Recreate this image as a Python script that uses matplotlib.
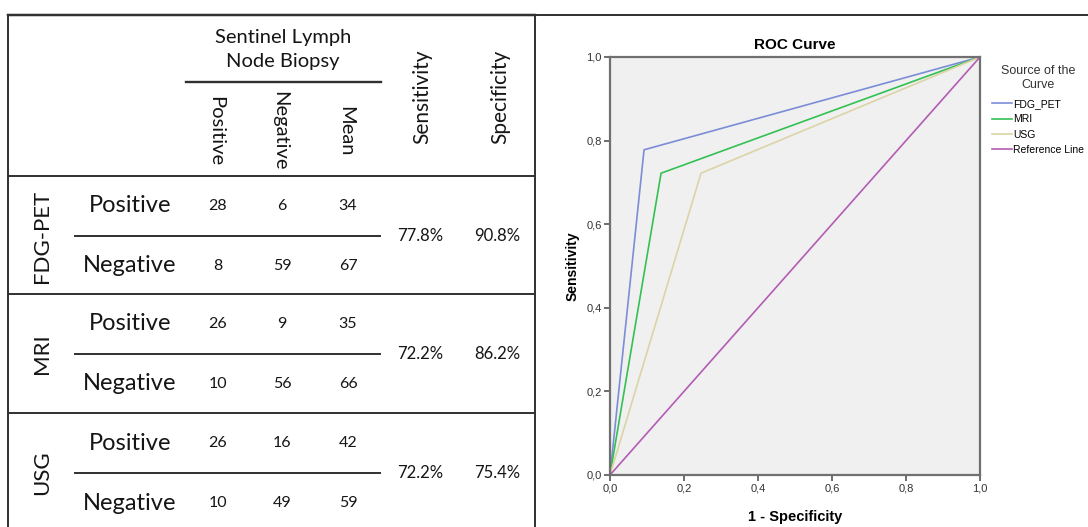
import matplotlib.pyplot as plt
from matplotlib.ticker import FuncFormatter

# table data
modalities = ['FDG-PET', 'MRI', 'USG']
row_labels = ['Positive', 'Negative']
col_labels = ['Positive', 'Negative', 'Mean']
counts = [
    [[28, 6, 34], [8, 59, 67]],
    [[26, 9, 35], [10, 56, 66]],
    [[26, 16, 42], [10, 49, 59]],
]
sensitivity = [77.8, 72.2, 72.2]
specificity = [90.8, 86.2, 75.4]

# ROC curve data (from table)
roc_names = ['FDG_PET', 'MRI', 'USG']
roc_colors = ['#7b8dd6', '#34c052', '#dbd4a6']
ref_color = '#b35cb3'

fig = plt.figure(figsize=(10.88, 5.27), dpi=100)
body_font = ['Lato', 'DejaVu Sans']
narrow_font = ['Liberation Sans Narrow', 'Liberation Sans', 'DejaVu Sans']
tc = '#151515'

# ---- table, drawn in pixel coordinates
tx = fig.add_axes([0, 0, 1, 1])
tx.set_xlim(0, 1088)
tx.set_ylim(527, 0)
tx.axis('off')
lc = '#303030'
lw = 1.4
tx.plot([8, 535], [15, 15], color=lc, lw=lw + 0.4)
tx.plot([535, 1088], [15, 15], color=lc, lw=lw)
tx.plot([8, 8], [15, 527], color=lc, lw=lw)
tx.plot([535, 535], [15, 527], color=lc, lw=lw)
tx.plot([186, 381], [82, 82], color=lc, lw=lw + 0.3)
for y in [176, 294, 413]:
    tx.plot([8, 535], [y, y], color=lc, lw=lw)

tx.text(283, 50, 'Sentinel Lymph\nNode Biopsy', ha='center', va='center',
        fontsize=14.5, family=body_font, linespacing=1.5, color=tc)
col_x = [216, 280, 346]
for x, lab in zip(col_x, col_labels):
    tx.text(x, 131, lab, ha='center', va='center', rotation=-90,
            fontsize=14.5, family=body_font, color=tc)
tx.text(422, 97, 'Sensitivity', ha='center', va='center', rotation=90,
        fontsize=15, family=body_font, color=tc)
tx.text(500, 97, 'Specificity', ha='center', va='center', rotation=90,
        fontsize=15, family=body_font, color=tc)

block_top = [176, 294, 413]
for i, mod in enumerate(modalities):
    yc = block_top[i] + 60
    tx.plot([75, 380], [yc, yc], color=lc, lw=lw)
    tx.text(42, yc, mod, ha='center', va='center', rotation=90,
            fontsize=16, family=body_font, color=tc)
    for j, rl in enumerate(row_labels):
        yr = yc - 30 + 60 * j
        tx.text(130, yr, rl, ha='center', va='center', fontsize=17,
                family=body_font, color=tc)
        for x, v in zip(col_x, counts[i][j]):
            tx.text(x + 2, yr, str(v), ha='center', va='center',
                    fontsize=11.5, family=body_font, color=tc)
    tx.text(420, yc, f'{sensitivity[i]:.1f}%', ha='center', va='center',
            fontsize=12, family=body_font, color=tc)
    tx.text(497, yc, f'{specificity[i]:.1f}%', ha='center', va='center',
            fontsize=12, family=body_font, color=tc)

# ---- ROC plot
ax = fig.add_axes([610 / 1088, 1 - 475 / 527, 370 / 1088, 418 / 527])
ax.set_facecolor('#f0f0f0')
for name, col, se, sp in zip(roc_names, roc_colors, sensitivity, specificity):
    ax.plot([0, 1 - sp / 100, 1], [0, se / 100, 1], color=col, lw=1.2, label=name)
ax.plot([0, 1], [0, 1], color=ref_color, lw=1.2, label='Reference Line')
ax.set_xlim(0, 1)
ax.set_ylim(0, 1)
ticks = [0, 0.2, 0.4, 0.6, 0.8, 1.0]
ax.set_xticks(ticks)
ax.set_yticks(ticks)
fmt = FuncFormatter(lambda v, p: f'{v:.1f}'.replace('.', ','))
ax.xaxis.set_major_formatter(fmt)
ax.yaxis.set_major_formatter(fmt)
ax.tick_params(length=4, width=1.2, color='#555', labelsize=8,
               labelcolor='#333', pad=2)
for lab in ax.get_xticklabels() + ax.get_yticklabels():
    lab.set_family(narrow_font)
for s in ax.spines.values():
    s.set_color('#707070')
    s.set_linewidth(1.6)
ax.set_title('ROC Curve', fontsize=11, fontweight='bold',
             family=narrow_font, pad=6)
ax.set_xlabel('1 - Specificity', fontsize=10.5, fontweight='bold',
              family=narrow_font, labelpad=12)
ax.set_ylabel('Sensitivity', fontsize=10, fontweight='bold',
              family=narrow_font, labelpad=5)

leg = fig.legend(loc='upper left', bbox_to_anchor=(992 / 1088, 1 - 65 / 527),
                 frameon=False, title='Source of the\nCurve',
                 prop={'family': narrow_font, 'size': 7.5},
                 handlelength=1.9, handletextpad=0.15, labelspacing=0.5,
                 borderaxespad=0, borderpad=0)
leg.get_title().set_family(narrow_font)
leg.get_title().set_fontsize(9)
leg.get_title().set_color('#333')
leg.get_title().set_multialignment('center')
leg._legend_box.sep = 6

fig.savefig('out.png', dpi=100)
